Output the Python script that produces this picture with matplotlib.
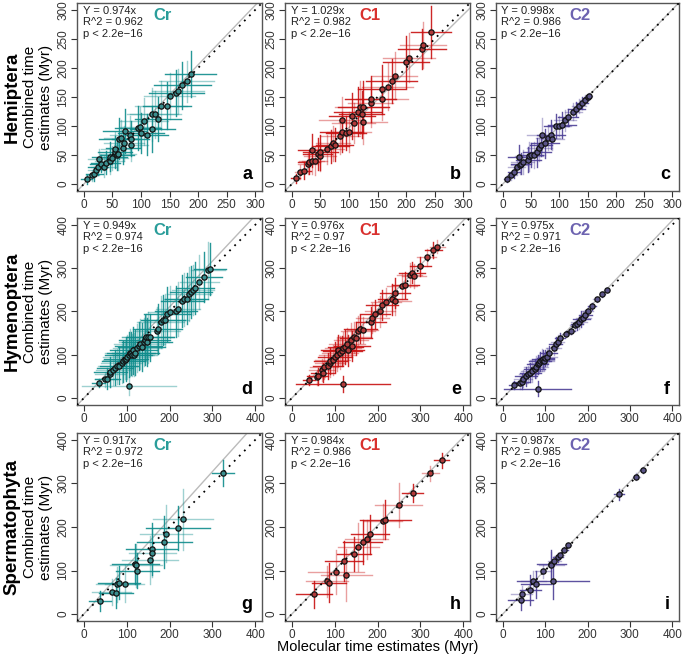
import numpy as np
import matplotlib.pyplot as plt

plt.rcParams['font.family'] = ['Liberation Sans', 'DejaVu Sans']

# ---- data (x = molecular, y = combined) ----
# Hemiptera
a_x = [5, 15, 18, 22, 25, 27, 30, 35, 38, 45, 45, 50, 55, 55, 58, 60, 62, 65, 68, 70, 72, 80, 82, 83,
       95, 98, 100, 105, 110, 120, 120, 125, 130, 135, 145, 150, 162, 165, 172, 180, 187]
a_y = [8, 15, 18, 25, 30, 43, 35, 30, 37, 40, 47, 45, 55, 60, 50, 52, 78, 80, 62, 70, 92, 85, 78, 68,
       97, 98, 88, 108, 85, 120, 95, 120, 112, 135, 135, 152, 157, 160, 170, 177, 190]
a_xe = [10, 12, 15, 15, 18, 20, 20, 22, 25, 25, 30, 28, 30, 25, 30, 32, 35, 30, 30, 35, 38, 35, 32, 30,
        40, 35, 40, 42, 38, 45, 40, 45, 40, 45, 42, 45, 48, 45, 50, 48, 45]
a_ye = [8, 10, 12, 12, 15, 18, 15, 18, 20, 22, 25, 20, 28, 30, 25, 28, 35, 30, 28, 30, 38, 32, 30, 28,
        38, 35, 35, 40, 35, 45, 40, 40, 38, 42, 40, 40, 40, 38, 40, 35, 40]

b_x = [7, 15, 22, 28, 30, 35, 35, 40, 45, 50, 50, 62, 68, 72, 75, 85, 87, 88, 95, 100, 105, 108, 115,
       120, 122, 125, 125, 138, 138, 158, 158, 168, 175, 180, 200, 205, 228, 230, 243]
b_y = [10, 20, 23, 35, 38, 40, 58, 40, 52, 48, 55, 60, 65, 70, 68, 82, 90, 110, 88, 90, 117, 105, 125,
       132, 120, 107, 133, 140, 147, 146, 163, 168, 178, 187, 210, 218, 233, 240, 262]
b_xe = [8, 10, 12, 18, 20, 22, 25, 22, 25, 28, 30, 30, 32, 30, 32, 35, 38, 40, 35, 38, 40, 38, 42,
        45, 40, 42, 45, 40, 45, 45, 42, 45, 45, 40, 40, 45, 42, 40, 35]
b_ye = [8, 12, 15, 18, 20, 22, 28, 25, 28, 25, 30, 25, 28, 30, 28, 30, 35, 40, 30, 35, 40, 35, 42,
        45, 40, 38, 45, 42, 40, 35, 42, 40, 38, 40, 45, 42, 35, 40, 45]

c_x = [7, 15, 20, 25, 28, 30, 32, 35, 45, 47, 50, 55, 60, 65, 68, 70, 75, 80, 85, 88, 95, 100, 105,
       110, 115, 125, 130, 135, 140, 145, 150, 153]
c_y = [8, 15, 20, 30, 47, 32, 35, 38, 42, 48, 50, 50, 55, 62, 68, 85, 70, 80, 85, 78, 100, 100, 102,
       110, 115, 125, 130, 135, 140, 145, 150, 152]
c_xe = [5, 8, 10, 15, 18, 15, 18, 20, 22, 25, 22, 20, 25, 22, 20, 28, 25, 22, 25, 20, 22, 20, 25,
        20, 18, 15, 15, 12, 10, 8, 6, 5]
c_ye = [5, 8, 10, 15, 20, 15, 18, 20, 22, 25, 20, 22, 25, 22, 20, 28, 25, 22, 25, 20, 20, 18, 22,
        18, 15, 15, 12, 12, 10, 8, 6, 5]

# Hymenoptera
d_x = [35, 50, 55, 60, 62, 68, 72, 78, 82, 88, 92, 95, 98, 100, 105, 108, 110, 112, 115, 118, 120,
       125, 128, 130, 135, 140, 142, 145, 148, 150, 155, 170, 172, 180, 185, 190, 195, 200, 215, 220,
       230, 235, 240, 245, 250, 255, 260, 270, 280, 290, 295, 105]
d_y = [35, 43, 45, 55, 60, 65, 70, 73, 75, 80, 85, 88, 90, 95, 100, 105, 103, 100, 110, 100, 105,
       115, 120, 125, 118, 130, 135, 140, 130, 140, 140, 155, 160, 175, 180, 180, 195, 198, 200, 205,
       225, 228, 230, 240, 245, 250, 255, 268, 280, 295, 298, 28]
d_xe = [15, 25, 30, 35, 38, 40, 42, 45, 45, 48, 50, 50, 52, 55, 55, 58, 55, 52, 55, 50, 55,
        58, 55, 60, 55, 58, 60, 55, 58, 60, 55, 55, 58, 55, 52, 55, 55, 50, 50, 52,
        50, 48, 50, 52, 50, 48, 45, 45, 42, 40, 38, 110]
d_ye = [10, 18, 25, 30, 35, 35, 40, 40, 42, 45, 48, 45, 50, 50, 52, 55, 50, 48, 55, 50, 52,
        55, 55, 58, 55, 55, 58, 55, 55, 58, 55, 55, 58, 60, 58, 60, 62, 60, 60, 62,
        60, 62, 60, 62, 60, 58, 60, 62, 58, 65, 60, 20]

e_x = [40, 58, 60, 70, 72, 75, 85, 88, 90, 95, 100, 105, 108, 112, 118, 120, 125, 128, 130, 138,
       140, 145, 150, 155, 160, 165, 185, 188, 195, 205, 210, 220, 235, 240, 240, 258, 265, 275,
       280, 285, 300, 315, 330, 340, 120]
e_y = [42, 48, 50, 65, 58, 72, 75, 80, 85, 88, 95, 100, 110, 105, 108, 115, 118, 125, 110, 135,
       120, 140, 138, 155, 160, 158, 175, 185, 195, 200, 215, 222, 228, 225, 242, 260, 262, 285,
       290, 282, 305, 325, 342, 350, 32]
e_xe = [15, 20, 25, 30, 28, 32, 35, 35, 38, 40, 40, 42, 40, 42, 45, 42, 40, 42, 38, 40,
        42, 40, 38, 40, 38, 35, 35, 38, 35, 35, 38, 35, 35, 38, 35, 35, 32, 30,
        30, 28, 25, 22, 20, 18, 110]
e_ye = [12, 18, 20, 25, 22, 28, 30, 32, 30, 35, 35, 38, 35, 38, 35, 38, 40, 38, 35, 38,
        35, 35, 38, 35, 32, 30, 35, 35, 32, 35, 35, 32, 35, 32, 35, 30, 30, 28,
        25, 28, 22, 20, 18, 15, 18]

f_x = [27, 40, 45, 48, 55, 60, 65, 70, 75, 78, 82, 85, 88, 92, 95, 98, 100, 105, 108, 120, 125,
       130, 135, 150, 160, 170, 175, 180, 185, 190, 195, 200, 210, 222, 235, 245, 82]
f_y = [30, 35, 38, 45, 50, 55, 58, 62, 68, 72, 78, 80, 85, 88, 90, 85, 92, 95, 103, 115, 125,
       130, 138, 148, 155, 168, 170, 175, 182, 185, 192, 200, 212, 228, 240, 250, 22]
f_xe = [12, 18, 20, 22, 25, 22, 25, 28, 25, 28, 25, 22, 25, 28, 25, 22, 20, 22, 20, 18, 15,
        15, 12, 10, 10, 12, 15, 18, 20, 18, 15, 12, 10, 8, 6, 5, 78]
f_ye = [10, 15, 18, 20, 22, 20, 22, 25, 22, 25, 22, 20, 22, 25, 22, 20, 18, 20, 18, 15, 15,
        15, 12, 8, 8, 10, 12, 15, 18, 15, 12, 10, 8, 6, 6, 5, 18]

# Spermatophyta
g_x = [38, 65, 75, 78, 82, 95, 120, 122, 125, 155, 158, 160, 188, 192, 220, 232, 325]
g_y = [30, 50, 48, 68, 72, 70, 115, 112, 100, 125, 150, 140, 165, 185, 198, 218, 325]
g_xe = [25, 45, 40, 50, 48, 45, 55, 60, 50, 65, 60, 55, 65, 60, 75, 70, 25]
g_ye = [22, 30, 35, 40, 38, 42, 45, 50, 40, 55, 60, 55, 60, 65, 50, 70, 30]

h_x = [52, 82, 87, 103, 122, 127, 145, 155, 165, 175, 183, 213, 218, 250, 282, 323, 350]
h_y = [45, 75, 72, 97, 122, 90, 138, 155, 165, 172, 183, 213, 217, 250, 278, 323, 353]
h_xe = [42, 50, 40, 65, 45, 60, 40, 48, 45, 50, 45, 45, 60, 55, 25, 20, 18]
h_ye = [30, 35, 45, 50, 45, 60, 40, 55, 50, 45, 45, 40, 45, 50, 20, 18, 18]

i_x = [42, 45, 65, 72, 78, 95, 115, 115, 118, 122, 130, 135, 145, 155, 275, 315, 330]
i_y = [32, 45, 55, 75, 68, 98, 115, 112, 75, 122, 130, 135, 148, 158, 275, 315, 330]
i_xe = [30, 25, 25, 30, 35, 20, 35, 30, 85, 15, 12, 10, 8, 6, 12, 8, 6]
i_ye = [22, 20, 35, 25, 30, 15, 32, 30, 40, 12, 10, 8, 6, 5, 12, 8, 6]

slopes = [0.974, 1.029, 0.998, 0.949, 0.976, 0.975, 0.917, 0.984, 0.987]
r2 = ['0.962', '0.982', '0.986', '0.974', '0.97', '0.971', '0.972', '0.986', '0.985']
methods = ['Cr', 'C1', 'C2']
groups = ['Hemiptera', 'Hymenoptera', 'Spermatophyta']
letters = list('abcdefghi')
ranges = [300, 400, 400]

panels = [(a_x, a_y, a_xe, a_ye), (b_x, b_y, b_xe, b_ye), (c_x, c_y, c_xe, c_ye),
          (d_x, d_y, d_xe, d_ye), (e_x, e_y, e_xe, e_ye), (f_x, f_y, f_xe, f_ye),
          (g_x, g_y, g_xe, g_ye), (h_x, h_y, h_xe, h_ye), (i_x, i_y, i_xe, i_ye)]

bar_cols = {'Cr': '#0e8c8c', 'C1': '#c81010', 'C2': '#4c3f96'}
pt_cols = {'Cr': '#3a8f8f', 'C1': '#b23a3a', 'C2': '#5a5488'}
lab_cols = {'Cr': '#2a9d9a', 'C1': '#d9302e', 'C2': '#6d63b0'}

W, H = 685, 655
fig = plt.figure(figsize=(W / 100, H / 100), dpi=100)

lefts = [77, 285, 496]
widths = [185, 185, 183]
tops = [3, 218, 433]
heights = [188, 187, 188]

for k, (x, y, xe, ye) in enumerate(panels):
    r, c = divmod(k, 3)
    m = methods[c]
    ax = fig.add_axes([lefts[c] / W, (H - tops[r] - heights[r]) / H, widths[c] / W, heights[r] / H])
    top = ranges[r]
    pad = top * 0.04
    lim = (-pad, top + pad)

    x = np.array(x, float)
    y = np.array(y, float)
    xe = np.array(xe, float)
    ye = np.array(ye, float)
    for j in range(len(x)):
        al = 0.9 if j % 2 == 0 else 0.4
        ax.plot([x[j] - xe[j], x[j] + xe[j]], [y[j], y[j]], color=bar_cols[m], lw=1.0, alpha=al, zorder=2)
        ax.plot([x[j], x[j]], [y[j] - ye[j], y[j] + ye[j]], color=bar_cols[m], lw=1.0, alpha=al, zorder=2)

    xx = np.array(lim)
    ax.plot(xx, xx / slopes[k], color='#bbbbbb', lw=1, zorder=1)
    ax.plot(xx, xx, color='black', lw=1.3, ls=(0, (1, 3)), zorder=3)
    ax.plot(x, y, 'o', ms=3.8, mfc=pt_cols[m], mec='#111111', mew=0.9, zorder=4)

    ax.set_xlim(lim)
    ax.set_ylim(lim)
    step = 50 if top == 300 else 100
    ticks = np.arange(0, top + 1, step)
    ax.set_xticks(ticks)
    ax.set_yticks(ticks)
    ax.tick_params(direction='out', length=4, labelsize=8.5, colors='#333333', pad=1.5)
    for lbl in ax.get_yticklabels():
        lbl.set_rotation(90)
        lbl.set_va('center')
    for s in ax.spines.values():
        s.set_color('#555555')
        s.set_linewidth(1)

    ax.text(0.03, 0.985, 'Y = %.3fx\nR^2 = %s\np < 2.2e\u221216' % (slopes[k], r2[k]),
            transform=ax.transAxes, ha='left', va='top', fontsize=8, linespacing=1.2, color='#222222')
    ax.text(0.46, 0.975, m, transform=ax.transAxes, ha='center', va='top',
            fontsize=12, fontweight='bold', color=lab_cols[m])
    ax.text(0.95, 0.04, letters[k], transform=ax.transAxes, ha='right', va='bottom',
            fontsize=13, fontweight='bold')

    if c == 0:
        cy = (tops[r] + heights[r] / 2)
        fig.text(12 / W, 1 - cy / H, groups[r], rotation=90, ha='center', va='center',
                 fontsize=13.5, fontweight='bold')
        fig.text(38 / W, 1 - cy / H, 'Combined time\nestimates (Myr)', rotation=90,
                 ha='center', va='center', fontsize=11, linespacing=1.1)

fig.text((lefts[1] + widths[1] / 2) / W, 1 / H, 'Molecular time estimates (Myr)',
         ha='center', va='bottom', fontsize=10.5)

fig.savefig('out.png', dpi=100)
